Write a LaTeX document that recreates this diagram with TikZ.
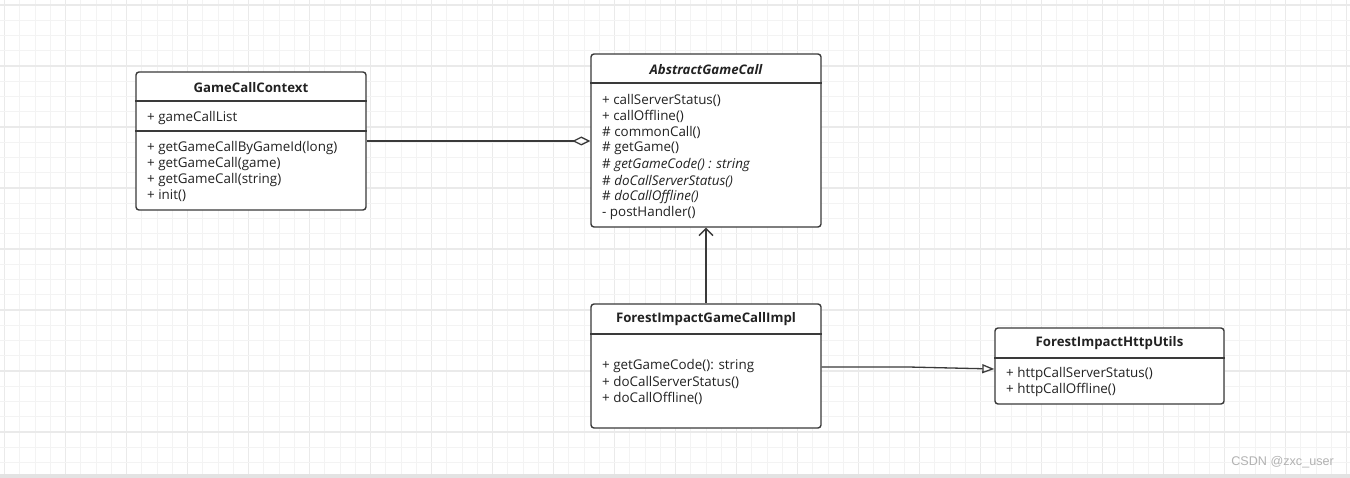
\documentclass[tikz,border=0pt]{standalone}
\usepackage{fontspec}
\setmainfont{Open Sans}
\newfontfamily\wmfont{Liberation Sans}
\usetikzlibrary{arrows.meta}
\definecolor{gridminor}{HTML}{F3F3F3}
\definecolor{gridmajor}{HTML}{EAEAEA}
\definecolor{boxline}{HTML}{3A3A3A}
\definecolor{txt}{HTML}{222222}
\tikzset{
  umlbox/.style={draw=boxline, line width=1.4pt, rounded corners=3pt, inner sep=0pt, fill=white},
  divider/.style={draw=boxline, line width=1.2pt},
  title/.style={font=\fontsize{13.2}{15}\selectfont\bfseries, text=txt, inner sep=0pt},
  member/.style={font=\fontsize{13.4}{15}\selectfont, text=txt, anchor=west, inner sep=0pt},
  conn/.style={draw=boxline, line width=1.3pt},
}
\begin{document}
\begin{tikzpicture}[x=1pt,y=-1pt]
\useasboundingbox (0,0) rectangle (1350,478);
\fill[white] (0,0) rectangle (1350,478);
% grid
\foreach \i in {0,...,88} {
  \pgfmathsetmacro\xx{4.5+15.25*\i}
  \pgfmathtruncatemacro\m{mod(\i,4)}
  \ifnum\m=0 \draw[gridmajor, line width=1.1pt] (\xx,0) -- (\xx,474);
  \else \draw[gridminor, line width=0.9pt] (\xx,0) -- (\xx,474); \fi
}
\foreach \i in {0,...,31} {
  \pgfmathsetmacro\yy{5+15.25*\i}
  \pgfmathtruncatemacro\m{mod(\i,4)}
  \ifnum\m=0 \draw[gridmajor, line width=1.1pt] (0,\yy) -- (1350,\yy);
  \else \draw[gridminor, line width=0.9pt] (0,\yy) -- (1350,\yy); \fi
}
\fill[gray!22] (0,474) rectangle (1350,478);

% GameCallContext
\node[umlbox, minimum width=230pt, minimum height=138pt] (ctx) at (251,141) {};
\draw[divider] (ctx.west |- 0,101) -- (ctx.east |- 0,101);
\draw[divider] (ctx.west |- 0,131) -- (ctx.east |- 0,131);
\node[title] (ctxT) at (251,87.5) {GameCallContext};
\node[member] (ctxA) at (147,118) {+ gameCallList};
\node[member] (ctxM1) at (147,148) {+ getGameCallByGameId(long)};
\node[member] (ctxM2) at (147,164) {+ getGameCall(game)};
\node[member] (ctxM3) at (147,180) {+ getGameCall(string)};
\node[member] (ctxM4) at (147,196) {+ init()};

% AbstractGameCall
\node[umlbox, minimum width=230pt, minimum height=173pt] (abs) at (706,140.5) {};
\draw[divider] (abs.west |- 0,83) -- (abs.east |- 0,83);
\node[title, font=\fontsize{13.2}{15}\selectfont\bfseries\itshape] (absT) at (706,69.5) {AbstractGameCall};
\node[member] (absM1) at (602,100) {+ callServerStatus()};
\node[member] (absM2) at (602,116) {+ callOffline()};
\node[member] (absM3) at (602,132) {\# commonCall()};
\node[member] (absM4) at (602,148) {\# getGame()};
\node[member] (absM5) at (602,165) {\# \textit{getGameCode() : string}};
\node[member] (absM6) at (602,181) {\# \textit{doCallServerStatus()}};
\node[member] (absM7) at (602,197) {\# \textit{doCallOffline()}};
\node[member] (absM8) at (602,213) {- postHandler()};

% ForestImpactGameCallImpl
\node[umlbox, minimum width=230pt, minimum height=124pt] (impl) at (706,366) {};
\draw[divider] (impl.west |- 0,334) -- (impl.east |- 0,334);
\node[title] (implT) at (706,319.5) {ForestImpactGameCallImpl};
\node[member] (implM1) at (602,366) {+ getGameCode(): string};
\node[member] (implM2) at (602,382) {+ doCallServerStatus()};
\node[member] (implM3) at (602,398) {+ doCallOffline()};

% ForestImpactHttpUtils
\node[umlbox, minimum width=229pt, minimum height=76pt] (http) at (1109.5,366) {};
\draw[divider] (http.west |- 0,358) -- (http.east |- 0,358);
\node[title] (httpT) at (1109.5,343.5) {ForestImpactHttpUtils};
\node[member] (httpM1) at (1006,374) {+ httpCallServerStatus()};
\node[member] (httpM2) at (1006,390) {+ httpCallOffline()};

% connectors
\draw[conn, -{Diamond[open, length=18pt, width=9pt, line width=1.3pt]}] (ctx.east |- 0,141) -- (abs.west |- 0,141);
\draw[conn, -{Straight Barb[length=7pt, width=14pt, line width=1.3pt]}] (impl.north) -- (abs.south);
\coordinate (bend) at (908,367);
\draw[conn, -{Triangle[open, length=12pt, width=9pt, line width=1.3pt]}] (impl.east |- bend) -- (bend) -- (http.west |- 0,369);

% watermark
\node[font=\wmfont\fontsize{12.6}{14}\selectfont, text=gray!60, anchor=east, inner sep=0pt] (wm) at (1334,462) {CSDN @zxc\_user};
\end{tikzpicture}
\end{document}
